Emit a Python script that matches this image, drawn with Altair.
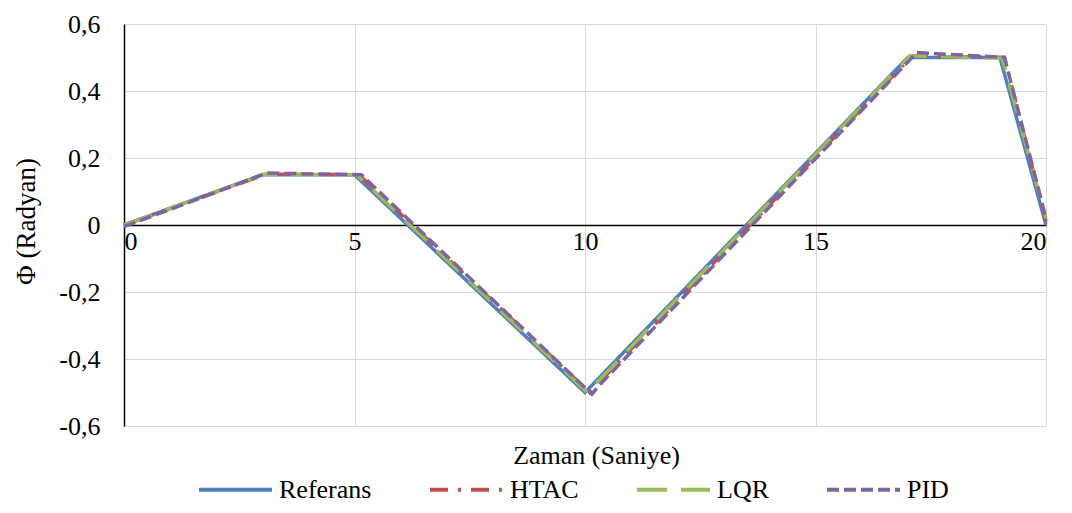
import altair as alt
import pandas as pd

series_names = ["Referans", "HTAC", "LQR", "PID"]
colors = ["#4F81BD", "#C0504D", "#9BBB59", "#8064A2"]
dashes = [[1, 0], [18, 10, 3, 10], [30, 14], [12, 5]]

ref_t = [0, 3, 5, 10, 17, 19, 20]
ref_y = [0, 0.15, 0.15, -0.5, 0.5, 0.5, 0]

htac_t = [0, 3.1, 5.1, 10.1, 17.1, 19.1, 20]
htac_y = [0, 0.152, 0.15, -0.5, 0.505, 0.5, 0.01]

lqr_t = [0, 3.05, 5.05, 10.05, 17.05, 19.05, 20]
lqr_y = [0, 0.152, 0.15, -0.5, 0.505, 0.498, 0.02]

pid_t = [0, 3.1, 5.15, 10.15, 10.3, 17.2, 19.1, 20]
pid_y = [-0.005, 0.155, 0.15, -0.505, -0.48, 0.515, 0.5, 0.02]

x_ticks = [0, 5, 10, 15, 20]
y_ticks = [-0.6, -0.4, -0.2, 0, 0.2, 0.4, 0.6]

rows = []
for name, ts, ys in [("Referans", ref_t, ref_y), ("HTAC", htac_t, htac_y),
                     ("LQR", lqr_t, lqr_y), ("PID", pid_t, pid_y)]:
    for i, (t, y) in enumerate(zip(ts, ys)):
        rows.append({"seri": name, "t": t, "phi": y, "ord": i})
df = pd.DataFrame(rows)

FONT = "Liberation Serif"

label_expr = "datum.value == 0 ? '0' : replace(replace(format(datum.value, '.1f'), '.', ','), '\u2212', '-')"

H = 402
chart = alt.Chart(df).mark_line(strokeWidth=3.5).encode(
    x=alt.X("t:Q", scale=alt.Scale(domain=[0, 20], nice=False),
            axis=alt.Axis(values=x_ticks, title="Zaman  (Saniye)", offset=-H / 2,
                          domainColor="black", domainWidth=1.5, ticks=False,
                          labelPadding=3, labelFontSize=26, labelFont=FONT, labelColor="black",
                          grid=True, gridColor="#d9d9d9", gridWidth=1,
                          titleFont=FONT, titleFontSize=26, titleFontWeight="normal",
                          titleColor="black", titleX=472, titleY=230, titleBaseline="middle")),
    y=alt.Y("phi:Q", scale=alt.Scale(domain=[-0.6, 0.6], nice=False),
            axis=alt.Axis(values=y_ticks, labelExpr=label_expr, title="Φ (Radyan)",
                          domainColor="black", domainWidth=1.5, ticks=False,
                          labelPadding=24, labelFontSize=26, labelFont=FONT, labelColor="black",
                          grid=True, gridColor="#d9d9d9", gridWidth=1,
                          titleFont=FONT, titleFontSize=27, titleFontWeight="normal",
                          titleColor="black", titleX=-98, titleY=H / 2 - 4,
                          titleAlign="center", titleBaseline="middle", titleAngle=-90)),
    color=alt.Color("seri:N", scale=alt.Scale(domain=series_names, range=colors),
                    sort=series_names, title=None),
    strokeDash=alt.StrokeDash("seri:N", scale=alt.Scale(domain=series_names, range=dashes),
                              sort=series_names, title=None),
    order=alt.Order("ord:Q"),
).properties(
    width=922, height=H,
    autosize=alt.AutoSizeParams(type="none"),
    padding={"left": 116, "top": 16, "right": 18, "bottom": 79},
).configure_view(stroke=None).configure_legend(
    orient="none", legendX=73, legendY=427, direction="horizontal",
    symbolType="stroke", symbolSize=5329, symbolStrokeWidth=4,
    labelFont=FONT, labelFontSize=26, labelColor="black", columnPadding=50,
    labelOffset=5, labelLimit=200,
)

chart.save("out.html", embed_options={"renderer": "svg", "actions": False})
